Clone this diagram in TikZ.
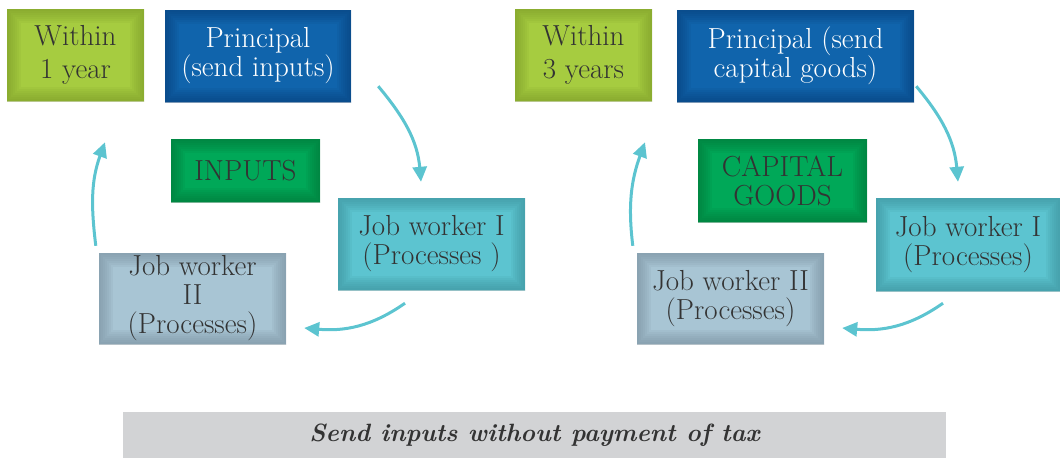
\documentclass[tikz,border=0pt]{standalone}
\usetikzlibrary{arrows.meta}
\definecolor{limeC}{RGB}{166,204,64}
\definecolor{limeE}{RGB}{120,150,40}
\definecolor{blueC}{RGB}{16,100,172}
\definecolor{blueE}{RGB}{10,62,118}
\definecolor{greenC}{RGB}{0,168,88}
\definecolor{greenE}{RGB}{0,112,52}
\definecolor{tealC}{RGB}{92,196,208}
\definecolor{tealE}{RGB}{56,138,148}
\definecolor{greyC}{RGB}{168,197,212}
\definecolor{greyE}{RGB}{116,138,152}
\definecolor{bannerC}{RGB}{210,211,213}
\definecolor{txt}{RGB}{51,51,51}
\tikzset{
  box/.style 2 args={fill=#1, text=txt, align=center, inner sep=0pt,
    font=\fontsize{29}{29}\selectfont,
    path picture={\foreach \w in {4,8,...,28}
      \draw[#2, line width=\w pt, opacity=.1] (path picture bounding box.south west) rectangle (path picture bounding box.north east);}},
  flow/.style={-{Triangle[length=15pt,width=14pt]}, line width=3pt, tealC}
}
\begin{document}
\begin{tikzpicture}[x=1pt,y=1pt]
   \useasboundingbox (0,0) rectangle (1060,-459);
   \node (within1) at (75.5,-55) [box={limeC}{limeE}, font=\fontsize{29}{33}\selectfont, minimum width=137pt, minimum height=92pt] {Within\\1 year};
   \node (prin1) at (258,-56) [box={blueC}{blueE}, text=white, minimum width=186pt, minimum height=92pt] {Principal\\(send inputs)};
   \node (inputs) at (245.5,-170.5) [box={greenC}{greenE}, minimum width=149pt, minimum height=63pt] {INPUTS};
   \node (jwone1) at (431.5,-244) [box={tealC}{tealE}, minimum width=187pt, minimum height=92pt] {Job worker I\\(Processes )};
   \node (jwtwo1) at (192.5,-298.5) [box={greyC}{greyE}, minimum width=187pt, minimum height=91pt] {Job worker\\II\\(Processes)};
   \node (within3) at (583.5,-55) [box={limeC}{limeE}, font=\fontsize{29}{33}\selectfont, minimum width=137pt, minimum height=92pt] {Within\\3 years};
   \node (prin3) at (795.5,-56) [box={blueC}{blueE}, text=white, minimum width=237pt, minimum height=92pt] {Principal (send\\capital goods)};
   \node (capital) at (782.5,-180.5) [box={greenC}{greenE}, minimum width=169pt, minimum height=83pt] {CAPITAL\\GOODS};
   \node (jwone3) at (968,-244.5) [box={tealC}{tealE}, minimum width=184pt, minimum height=93pt] {Job worker I\\(Processes)};
   \node (jwtwo3) at (730.5,-298.5) [box={greyC}{greyE}, minimum width=187pt, minimum height=91pt] {Job worker II\\(Processes)};
   \node (note) at (534.5,-435) [fill=bannerC, text=txt, minimum width=823pt, minimum height=46pt, font=\fontsize{25}{28}\selectfont\bfseries\itshape] {Send inputs without payment of tax};
   \draw[flow] ([shift={(27pt,16pt)}]prin1.south east) to[out=-50, in=95] ([shift={(-10.5pt,16pt)}]jwone1.north);
   \draw[flow] ([shift={(-26.5pt,-13pt)}]jwone1.south) to[out=-145, in=-5] ([shift={(18pt,-29.5pt)}]jwtwo1.east);
   \draw[flow] ([shift={(-3pt,7pt)}]jwtwo1.north west) to[out=97, in=-110] ([shift={(29.5pt,-41pt)}]within1.south);
   \draw[flow] ([shift={(2pt,16pt)}]prin3.south east) to[out=-50, in=95] ([shift={(-10pt,16pt)}]jwone3.north);
   \draw[flow] ([shift={(-25pt,-12pt)}]jwone3.south) to[out=-145, in=-5] ([shift={(18pt,-29.5pt)}]jwtwo3.east);
   \draw[flow] ([shift={(-4pt,7pt)}]jwtwo3.north west) to[out=97, in=-110] ([shift={(61.5pt,-41pt)}]within3.south);
\end{tikzpicture}
\end{document}
